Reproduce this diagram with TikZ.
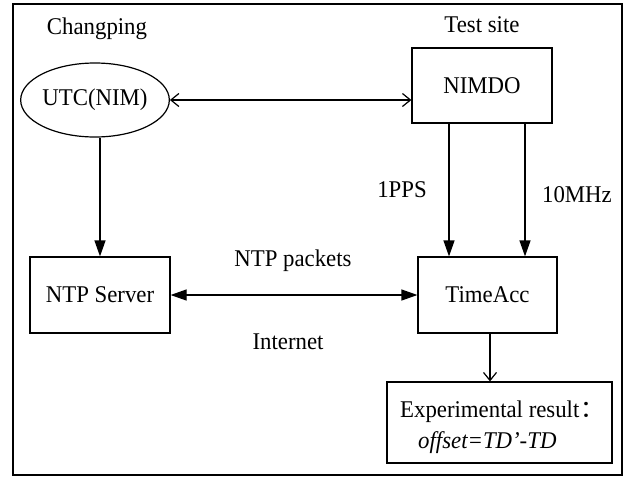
\documentclass[tikz,border=0pt]{standalone}
\usepackage{fontspec}
\setmainfont{Liberation Serif}[FakeStretch=0.95]
\newfontfamily\cjk{Noto Sans CJK SC}
\usetikzlibrary{arrows.meta,shapes.geometric}
\begin{document}
\begin{tikzpicture}[x=1pt,y=-1pt,
  every node/.style={font=\fontsize{24}{28}\selectfont, inner sep=0pt},
  box/.style={draw, line width=1.2pt},
  conn/.style={line width=1.2pt},
  fillarrow/.style={conn, -{Triangle[length=16pt,width=11pt]}},
  fillboth/.style={conn, {Triangle[length=16pt,width=11pt]}-{Triangle[length=16pt,width=11pt]}},
  openarrow/.style={conn, -{Straight Barb[length=8pt,width=13pt]}},
  openboth/.style={conn, {Straight Barb[length=8pt,width=13pt]}-{Straight Barb[length=8pt,width=13pt]}}]
\useasboundingbox (0,0) rectangle (626,477);
\draw[line width=2pt] (12.5,3.5) rectangle (622,475);

\node[box, ellipse, minimum width=146pt, minimum height=74pt] (utc) at (95,100) {UTC(NIM)};
\node[box, minimum width=140pt, minimum height=75pt] (nimdo) at (482,85.5) {NIMDO};
\node[box, minimum width=140pt, minimum height=76pt] (ntp) at (100,295) {NTP Server};
\node[box, minimum width=139pt, minimum height=76pt] (time) at (487.5,295) {TimeAcc};
\node[box, minimum width=225pt, minimum height=81pt] (res) at (499.5,422.5) {};
\node[anchor=west] (r1) at (400,412) {Experimental result\hspace{1pt}{\cjk ：}};
\node[anchor=west] (r2) at (418,443) {\textit{offset=TD’-TD}};

\node (changping) at (97,29) {Changping};
\node (testsite) at (482,25) {Test site};
\node (pps) at (402,190) {1PPS};
\node (mhz) at (577,195) {10MHz};
\node (packets) at (293,261) {NTP packets};
\node (internet) at (288,342) {Internet};

\coordinate (x1) at (449,0);
\coordinate (x2) at (525,0);
\coordinate (x3) at (490,0);

\draw[openboth] (utc.east) -- (utc.east -| nimdo.west);
\draw[fillarrow] (utc.south -| ntp.north) -- (ntp.north);
\draw[fillarrow] (nimdo.south -| x1) -- (time.north -| x1);
\draw[fillarrow] (nimdo.south -| x2) -- (time.north -| x2);
\draw[fillboth] (ntp.east) -- (time.west);
\draw[openarrow] (time.south -| x3) -- (res.north -| x3);
\end{tikzpicture}
\end{document}
